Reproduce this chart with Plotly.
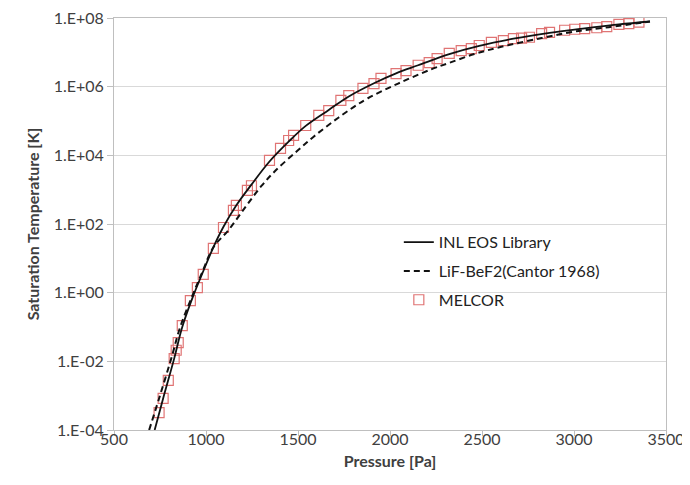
import plotly.graph_objects as go

# ---- data ----
inl_pressure = [721, 767, 827, 871, 930, 985, 1040, 1095, 1165, 1247, 1345, 1449, 1542,
                1667, 1776, 1913, 2033, 2153, 2322, 2485, 2671, 2867, 3058, 3244, 3413]
inl_temp = [1.0e-4, 8.3e-4, 1.2e-2, 1.0e-1, 0.79, 4.2, 21, 83, 350, 1.4e3, 6.6e3, 2.5e4, 7.2e4,
            2.1e5, 5.2e5, 1.26e6, 2.45e6, 4.2e6, 8.9e6, 1.55e7, 2.5e7, 3.7e7, 5.0e7, 6.5e7, 7.9e7]

cantor_pressure = [691, 745, 811, 860, 925, 980, 1040, 1122, 1215, 1300, 1378, 1498, 1585,
                   1695, 1800, 1880, 2044, 2224, 2316, 2458, 2605, 2824, 3000, 3189, 3413]
cantor_temp = [1.0e-4, 8.3e-4, 1.2e-2, 0.1, 0.79, 4.0, 21, 66, 316, 1.26e3, 3.6e3, 1.38e4, 3.5e4,
               1.0e5, 2.5e5, 4.6e5, 1.23e6, 3.2e6, 4.8e6, 8.9e6, 1.45e7, 2.6e7, 4.0e7, 5.4e7, 7.9e7]

melcor_pressure = [745, 767, 795, 827, 838, 849, 871, 915, 953, 985, 1040, 1095, 1149, 1165,
                   1225, 1247, 1345, 1405, 1449, 1476, 1542, 1613, 1667, 1733, 1776, 1853,
                   1913, 1951, 2033, 2087, 2153, 2213, 2256, 2322, 2387, 2442, 2485, 2551,
                   2616, 2671, 2715, 2758, 2824, 2867, 2949, 3004, 3058, 3124, 3178, 3244,
                   3298, 3353]
melcor_temp = [3.2e-4, 8.3e-4, 2.8e-3, 1.2e-2, 2.1e-2, 3.5e-2, 0.11, 0.59, 1.4, 3.4, 19.5, 79,
               250, 350, 950, 1.3e3, 7.1e3, 1.6e4, 2.7e4, 3.8e4, 7.4e4, 1.45e5, 2.0e5, 4.0e5,
               5.5e5, 8.9e5, 1.23e6, 1.74e6, 2.4e6, 2.95e6, 4.2e6, 5.0e6, 6.6e6, 9.3e6,
               1.12e7, 1.29e7, 1.58e7, 1.95e7, 2.2e7, 2.5e7, 2.6e7, 2.75e7, 3.5e7, 3.8e7,
               4.4e7, 4.7e7, 4.9e7, 5.2e7, 5.6e7, 6.5e7, 6.9e7, 7.6e7]

x_ticks = [500, 1000, 1500, 2000, 2500, 3000, 3500]
y_tickvals = [1e-4, 1e-2, 1e0, 1e2, 1e4, 1e6, 1e8]
y_ticktext = ["1.E-04", "1.E-02", "1.E+00", "1.E+02", "1.E+04", "1.E+06", "1.E+08"]

FONT = "Lato"
TXT = "#404040"

fig = go.Figure()
fig.add_trace(go.Scatter(
    x=melcor_pressure, y=melcor_temp, mode="markers", name="MELCOR",
    legendgroup="c", legendrank=3,
    marker=dict(symbol="square-open", size=10, color="#e07474", line=dict(width=1.2)),
))
fig.add_trace(go.Scatter(
    x=inl_pressure, y=inl_temp, mode="lines", name="INL EOS Library",
    legendgroup="a", legendrank=1,
    line=dict(color="#111111", width=1.8, shape="spline"),
))
fig.add_trace(go.Scatter(
    x=cantor_pressure, y=cantor_temp, mode="lines", name="LiF-BeF2(Cantor 1968)",
    legendgroup="b", legendrank=2,
    line=dict(color="#111111", width=2, dash="6px,4px", shape="spline"),
))

# the page body adds an 8px offset, so the figure is sized 682x477
fig.update_layout(
    width=682, height=477,
    margin=dict(l=106, r=24, t=10, b=55),
    paper_bgcolor="white", plot_bgcolor="white",
    font=dict(family=FONT, size=16, color=TXT),
    showlegend=True,
    legend=dict(
        x=0.516, xanchor="left", y=0.497, yanchor="top",
        bgcolor="rgba(0,0,0,0)", font=dict(family=FONT, size=16, color="#222222"),
        traceorder="grouped", tracegroupgap=5,
    ),
)
fig.update_xaxes(
    range=[500, 3500], tickvals=x_ticks, showgrid=False, zeroline=False,
    showline=True, linecolor="#bfbfbf", linewidth=1, mirror=True,
    ticks="outside", ticklen=5, tickcolor="#bfbfbf", automargin=False,
    ticklabelstandoff=-10, ticklabeloverflow="allow",
    tickfont=dict(family=FONT, size=16, color=TXT),
    title=dict(text="Pressure [Pa]", font=dict(family=FONT, size=16, color=TXT, weight="bold"),
               standoff=8),
)
fig.update_yaxes(
    type="log", range=[-4, 8], tickvals=y_tickvals, ticktext=y_ticktext,
    showgrid=True, gridcolor="#d9d9d9", gridwidth=1, zeroline=False,
    showline=True, linecolor="#bfbfbf", linewidth=1, mirror=True,
    ticks="outside", ticklen=6, tickcolor="#bfbfbf", automargin=False,
    ticklabelstandoff=0, ticklabeloverflow="allow",
    tickfont=dict(family=FONT, size=16, color=TXT),
    title=dict(text="Saturation Temperature [K]",
               font=dict(family=FONT, size=16, color=TXT, weight="bold"), standoff=10),
)

fig.write_html("out.html")
